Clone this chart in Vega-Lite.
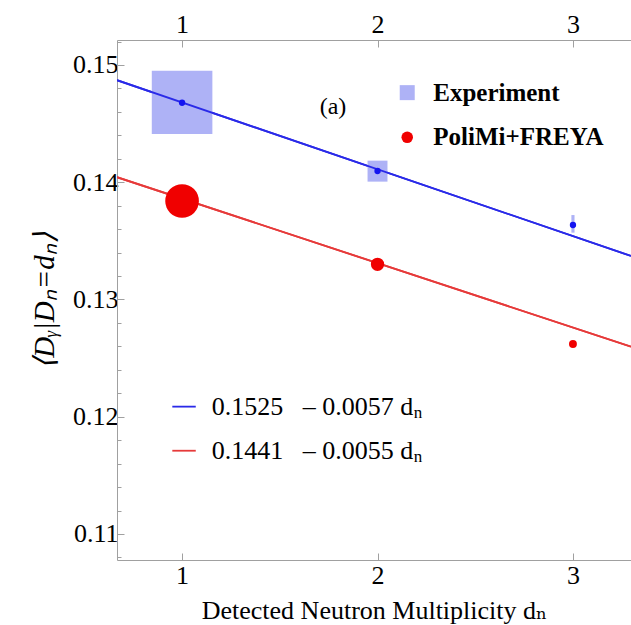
{
  "$schema": "https://vega.github.io/schema/vega-lite/v6.json",
  "width": 514,
  "height": 520,
  "autosize": {"type": "none"},
  "padding": {"left": 117, "top": 40, "right": 0, "bottom": 65},
  "background": "white",
  "config": {
    "view": {"stroke": null},
    "font": "Liberation Serif",
    "axis": {
      "domainColor": "#a0a0a0",
      "tickColor": "#a0a0a0",
      "labelColor": "black",
      "titleColor": "black",
      "labelFont": "Liberation Serif",
      "titleFont": "Liberation Serif",
      "grid": false,
      "titleFontWeight": "normal"
    }
  },
  "datasets": {
    "fits": [
      {"series": "Experiment fit", "x": 0.667, "y": 0.14870},
      {"series": "Experiment fit", "x": 3.297, "y": 0.13371},
      {"series": "PoliMi+FREYA fit", "x": 0.667, "y": 0.14043},
      {"series": "PoliMi+FREYA fit", "x": 3.297, "y": 0.12597}
    ],
    "experiment": [
      {"dn": 1, "y": 0.14678, "xlo": 0.845, "xhi": 1.155, "ylo": 0.14412, "yhi": 0.14950},
      {"dn": 2, "y": 0.14096, "xlo": 1.949, "xhi": 2.051, "ylo": 0.14005, "yhi": 0.14184},
      {"dn": 3, "y": 0.13635, "xlo": 2.992, "xhi": 3.008, "ylo": 0.13570, "yhi": 0.13720}
    ],
    "model": [
      {"dn": 1, "y": 0.1384, "u": 0.00162},
      {"dn": 2, "y": 0.1330, "u": 0.00064},
      {"dn": 3, "y": 0.1262, "u": 0.00038}
    ],
    "legendSymbols": [
      {"label": "Experiment", "x": 2.152, "y": 0.14764},
      {"label": "PoliMi+FREYA", "x": 2.152, "y": 0.14383}
    ],
    "fitLegend": [
      {"series": "Experiment fit", "x": 0.95, "y": 0.12086, "text": "0.1525\u2002 \u2013 0.0057 d"},
      {"series": "Experiment fit", "x": 1.07, "y": 0.12086, "text": "0.1525\u2002 \u2013 0.0057 d"},
      {"series": "PoliMi+FREYA fit", "x": 0.95, "y": 0.11710, "text": "0.1441\u2002 \u2013 0.0055 d"},
      {"series": "PoliMi+FREYA fit", "x": 1.07, "y": 0.11710, "text": "0.1441\u2002 \u2013 0.0055 d"}
    ]
  },
  "resolve": {"axis": {"x": "independent", "y": "independent"}},
  "layer": [
    {
      "data": {"name": "fits"},
      "mark": {"type": "line", "strokeWidth": 1.8, "clip": true},
      "encoding": {
        "x": {
          "field": "x", "type": "quantitative",
          "scale": {"domain": [0.667, 3.297], "nice": false, "zero": false},
          "axis": {"orient": "bottom", "values": [1, 2, 3], "format": "d", "tickSize": -7, "labelFontSize": 26, "labelPadding": 9, "title": "Detected Neutron Multiplicity d\u2099", "titleFont": "Liberation Serif, DejaVu Serif, serif", "titleFontSize": 26, "titlePadding": 9}
        },
        "y": {
          "field": "y", "type": "quantitative",
          "scale": {"domain": [0.10778, 0.15213], "nice": false, "zero": false},
          "axis": {"orient": "left", "values": [0.11, 0.12, 0.13, 0.14, 0.15], "format": ".2f", "tickSize": -7, "labelFontSize": 26, "labelPadding": 6, "title": "\u27e8D\u1d67|D\u2099=d\u2099\u27e9", "titleFontSize": 29, "titleFontStyle": "italic", "titlePadding": 13}
        },
        "color": {
          "field": "series", "type": "nominal",
          "scale": {"domain": ["Experiment fit", "PoliMi+FREYA fit"], "range": ["#2a2ae8", "#e63a3a"]},
          "legend": null
        }
      }
    },
    {
      "data": {"name": "experiment"},
      "mark": {"type": "rect", "color": "#aeb2f6", "opacity": 1},
      "encoding": {
        "x": {"field": "xlo", "type": "quantitative", "axis": {"orient": "top", "values": [1, 2, 3], "format": "d", "tickSize": -7, "labelFontSize": 26, "labelPadding": 10, "title": null}},
        "x2": {"field": "xhi"},
        "y": {"field": "ylo", "type": "quantitative", "axis": {"orient": "left", "values": [0.108, 0.112, 0.114, 0.116, 0.118, 0.122, 0.124, 0.126, 0.128, 0.132, 0.134, 0.136, 0.138, 0.142, 0.144, 0.146, 0.148, 0.152], "tickSize": -4, "labels": false, "domain": false, "title": null}},
        "y2": {"field": "yhi"}
      }
    },
    {
      "data": {"name": "fits"},
      "mark": {"type": "line", "strokeWidth": 1.8, "clip": true},
      "encoding": {
        "x": {"field": "x", "type": "quantitative", "axis": null},
        "y": {"field": "y", "type": "quantitative", "axis": null},
        "color": {"field": "series", "type": "nominal", "legend": null}
      }
    },
    {
      "data": {"name": "experiment"},
      "mark": {"type": "circle", "color": "#1414f0", "opacity": 1, "size": 40},
      "encoding": {
        "x": {"field": "dn", "type": "quantitative", "axis": null},
        "y": {"field": "y", "type": "quantitative", "axis": null}
      }
    },
    {
      "data": {"name": "model"},
      "mark": {"type": "circle", "color": "#f00000", "opacity": 1},
      "encoding": {
        "x": {"field": "dn", "type": "quantitative", "axis": null},
        "y": {"field": "y", "type": "quantitative", "axis": null},
        "size": {"field": "u", "type": "quantitative", "scale": {"type": "pow", "exponent": 2, "domain": [0, 0.00162], "range": [0, 1134]}, "legend": null}
      }
    },
    {
      "data": {"name": "legendSymbols"},
      "transform": [{"filter": "datum.label === 'Experiment'"}],
      "mark": {"type": "square", "color": "#aeb2f6", "opacity": 1, "size": 225},
      "encoding": {
        "x": {"field": "x", "type": "quantitative", "axis": null},
        "y": {"field": "y", "type": "quantitative", "axis": null}
      }
    },
    {
      "data": {"name": "legendSymbols"},
      "transform": [{"filter": "datum.label === 'PoliMi+FREYA'"}],
      "mark": {"type": "circle", "color": "#f00000", "opacity": 1, "size": 133},
      "encoding": {
        "x": {"field": "x", "type": "quantitative", "axis": null},
        "y": {"field": "y", "type": "quantitative", "axis": null}
      }
    },
    {
      "data": {"name": "legendSymbols"},
      "mark": {"type": "text", "align": "left", "baseline": "middle", "dx": 26, "fontSize": 25, "fontWeight": "bold", "font": "Liberation Serif", "color": "black"},
      "encoding": {
        "x": {"field": "x", "type": "quantitative", "axis": null},
        "y": {"field": "y", "type": "quantitative", "axis": null},
        "text": {"field": "label"}
      }
    },
    {
      "data": {"values": [{"x": 1.772, "y": 0.14639, "text": "(a)"}]},
      "mark": {"type": "text", "align": "center", "baseline": "middle", "fontSize": 24, "font": "Liberation Serif", "color": "black"},
      "encoding": {
        "x": {"field": "x", "type": "quantitative", "axis": null},
        "y": {"field": "y", "type": "quantitative", "axis": null},
        "text": {"field": "text"}
      }
    },
    {
      "data": {"name": "fitLegend"},
      "mark": {"type": "line", "strokeWidth": 1.8},
      "encoding": {
        "x": {"field": "x", "type": "quantitative", "axis": null},
        "y": {"field": "y", "type": "quantitative", "axis": null},
        "color": {"field": "series", "type": "nominal", "legend": null}
      }
    },
    {
      "data": {"name": "fitLegend"},
      "transform": [{"filter": "datum.x > 1"}],
      "mark": {"type": "text", "align": "left", "baseline": "middle", "dx": 16, "fontSize": 26, "font": "Liberation Serif", "color": "black"},
      "encoding": {
        "x": {"field": "x", "type": "quantitative", "axis": null},
        "y": {"field": "y", "type": "quantitative", "axis": null},
        "text": {"field": "text"}
      }
    },
    {
      "data": {"name": "fitLegend"},
      "transform": [{"filter": "datum.x > 1"}],
      "mark": {"type": "text", "align": "left", "baseline": "middle", "dx": 218, "dy": 6, "fontSize": 17, "font": "Liberation Serif", "color": "black", "text": "n"},
      "encoding": {
        "x": {"field": "x", "type": "quantitative", "axis": null},
        "y": {"field": "y", "type": "quantitative", "axis": null}
      }
    }
  ]
}
